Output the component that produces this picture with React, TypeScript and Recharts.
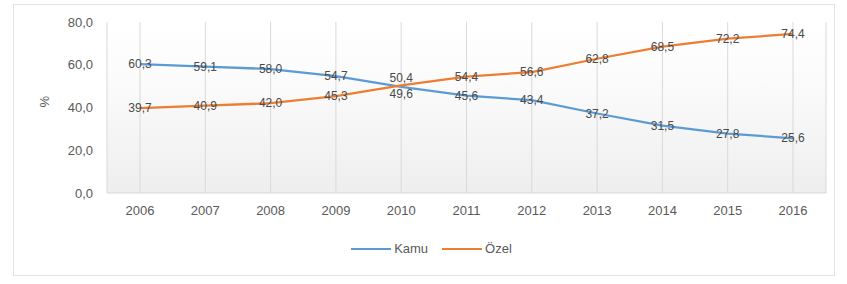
import React from 'react'
import {
  LineChart,
  Line,
  XAxis,
  YAxis,
  CartesianGrid,
  Legend,
  LabelList,
  Label,
} from 'recharts'

const YEARS = ['2006', '2007', '2008', '2009', '2010', '2011', '2012', '2013', '2014', '2015', '2016']
const KAMU = [60.3, 59.1, 58.0, 54.7, 49.6, 45.6, 43.4, 37.2, 31.5, 27.8, 25.6]
const OZEL = [39.7, 40.9, 42.0, 45.3, 50.4, 54.4, 56.6, 62.8, 68.5, 72.2, 74.4]
const Y_TICKS = [0, 20, 40, 60, 80]

const BLUE = '#5b9bd5'
const ORANGE = '#ed7d31'
const TEXT = '#595959'
const FONT = '"Liberation Sans", Arial, sans-serif'

const data = YEARS.map((year, i) => ({ year, kamu: KAMU[i], ozel: OZEL[i] }))

const fmt = (v: any) => Number(v).toFixed(1).replace('.', ',')

// labels sit on the point, like Excel's "center" data labels;
// where the two lines cross (2010) nudge them apart a bit
const pointLabel = (shift: number) => (props: any) => {
  const { x, y, value, index } = props
  const dy = index === 4 ? shift : 0
  return (
    <text x={x} y={y + dy} dy="0.35em" textAnchor="middle" fill="#4a4a4a" fontSize={12} fontFamily={FONT}>
      {fmt(value)}
    </text>
  )
}

function LegendContent() {
  const items = [
    { name: 'Kamu', color: BLUE },
    { name: 'Özel', color: ORANGE },
  ]
  return (
    <div style={{ display: 'flex', justifyContent: 'center', paddingLeft: 15, fontFamily: FONT, fontSize: 13, color: TEXT }}>
      {items.map((it) => (
        <div key={it.name} style={{ display: 'flex', alignItems: 'center', margin: '0 7px' }}>
          <span style={{ display: 'inline-block', width: 40, height: 2, background: it.color, marginRight: 3 }} />
          <span>{it.name}</span>
        </div>
      ))}
    </div>
  )
}

export default function App() {
  return (
    <div
      style={{
        position: 'absolute',
        left: 13,
        top: 4,
        width: 822,
        height: 272,
        border: '1px solid #e4e4e4',
        background: '#fff',
        boxSizing: 'border-box',
      }}
    >
      <LineChart width={820} height={270} data={data} margin={{ top: 17, right: 8, left: 0, bottom: 14 }}>
        <defs>
          <linearGradient id="plotBg" x1="0" y1="0" x2="0" y2="1">
            <stop offset="0%" stopColor="#ffffff" />
            <stop offset="35%" stopColor="#fbfbfb" />
            <stop offset="100%" stopColor="#eeeeee" />
          </linearGradient>
        </defs>
        <CartesianGrid horizontal={false} vertical={true} stroke="#d9d9d9" fill="url(#plotBg)" />
        <XAxis
          dataKey="year"
          height={48}
          padding={{ left: 33, right: 33 }}
          tickLine={false}
          axisLine={{ stroke: '#d9d9d9' }}
          tickMargin={7}
          tick={{ fill: TEXT, fontSize: 13, fontFamily: FONT }}
        />
        <YAxis
          width={93}
          domain={[0, 80]}
          ticks={Y_TICKS}
          tickFormatter={fmt}
          tickLine={false}
          axisLine={false}
          tickMargin={8}
          tick={{ fill: TEXT, fontSize: 13, fontFamily: FONT }}
        >
          <Label value="%" position="insideLeft" offset={30} angle={-90} fill={TEXT} fontSize={13} fontFamily={FONT} />
        </YAxis>
        <Legend verticalAlign="bottom" height={20} content={<LegendContent />} wrapperStyle={{ left: 0, width: 820 }} />
        <Line
          type="linear"
          dataKey="kamu"
          name="Kamu"
          stroke={BLUE}
          strokeWidth={2.25}
          dot={false}
          isAnimationActive={false}
        >
          <LabelList dataKey="kamu" content={pointLabel(7)} />
        </Line>
        <Line
          type="linear"
          dataKey="ozel"
          name="Özel"
          stroke={ORANGE}
          strokeWidth={2.25}
          dot={false}
          isAnimationActive={false}
        >
          <LabelList dataKey="ozel" content={pointLabel(-7)} />
        </Line>
      </LineChart>
    </div>
  )
}
